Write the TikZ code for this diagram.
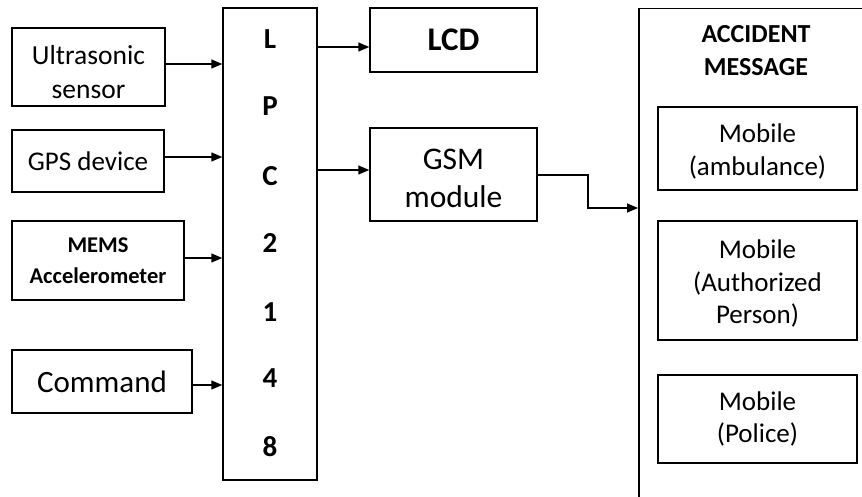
\documentclass[tikz,border=0pt]{standalone}
\usepackage{fontspec}
\setmainfont{Carlito}
\usetikzlibrary{arrows.meta}
\begin{document}
\begin{tikzpicture}[x=1pt,y=-1pt,
  box/.style={draw, line width=1.5pt, inner sep=0pt, align=center},
  txt/.style={inner sep=0pt, align=center},
  arr/.style={line width=1.5pt, -{Triangle[length=11pt,width=9pt]}},
  lpcl/.style={inner sep=0pt, font=\bfseries\fontsize{29}{30}\selectfont},
  reg/.style={font=\fontsize{27.5}{34}\selectfont},
  mob/.style={font=\fontsize{27}{32.5}\selectfont},
  big/.style={font=\fontsize{31.5}{38}\selectfont}]
\useasboundingbox (0,0) rectangle (862,497);
\clip (0,0) rectangle (862,497);
% inputs
\node[box, minimum width=153pt, minimum height=78pt] (us) at (88.5,67) {};
\node[txt, reg, yshift=-5pt] (ust) at (us) {Ultrasonic\\sensor};
\node[box, font=\fontsize{27}{34}\selectfont, minimum width=152pt, minimum height=62pt] (gps) at (88,161) {GPS device};
\node[box, font=\bfseries\fontsize{22.5}{31}\selectfont, minimum width=172pt, minimum height=79pt] (mems) at (98,260.5) {MEMS\\Accelerometer};
\node[box, font=\fontsize{31}{38}\selectfont, minimum width=180pt, minimum height=63pt] (cmd) at (102,381.5) {Command};
% controller
\node[box, minimum width=94pt, minimum height=472pt] (lpc) at (270,244) {};
\node[lpcl] (l1) at (270,39) {L};
\node[lpcl] (l2) at (270,106) {P};
\node[lpcl] (l3) at (270,176) {C};
\node[lpcl] (l4) at (270,243) {2};
\node[lpcl] (l5) at (270,312) {1};
\node[lpcl] (l6) at (270,378) {4};
\node[lpcl] (l7) at (270,447) {8};
% outputs
\node[box, font=\bfseries\fontsize{33}{38}\selectfont, minimum width=167pt, minimum height=64pt] (lcd) at (453.5,40) {LCD};
\node[box, minimum width=167pt, minimum height=93pt] (gsm) at (453.5,174.5) {};
\node[txt, big, yshift=-4pt] (gsmt) at (gsm) {GSM\\module};
% accident message block
\node[box, anchor=north west, minimum width=260pt, minimum height=520pt] (acc) at (638,8) {};
\node[txt, font=\bfseries\fontsize{26}{33}\selectfont] (acct) at (756,51) {ACCIDENT\\MESSAGE};
\node[box, minimum width=199pt, minimum height=83pt] (amb) at (757.5,148.5) {};
\node[txt, mob, yshift=-3pt] (ambt) at (amb) {Mobile\\(ambulance)};
\node[box, minimum width=199pt, minimum height=119pt] (auth) at (757.5,280.5) {};
\node[txt, mob, yshift=-3pt] (autht) at (auth) {Mobile\\(Authorized\\Person)};
\node[box, mob, minimum width=199pt, minimum height=88pt] (pol) at (757.5,419) {Mobile\\(Police)};
% connectors
\draw[arr] (us.east |- 0,64) -- (lpc.west |- 0,64);
\draw[arr] (gps.east |- 0,157) -- (lpc.west |- 0,157);
\draw[arr] (mems.east |- 0,258) -- (lpc.west |- 0,258);
\draw[arr] (cmd.east |- 0,385) -- (lpc.west |- 0,385);
\draw[arr] (lpc.east |- 0,47) -- (lcd.west |- 0,47);
\draw[arr] (lpc.east |- 0,170) -- (gsm.west |- 0,170);
\coordinate (bend) at (588,175);
\draw[arr] (gsm.east |- bend) -- (bend) -- (588,208) -- (acc.west |- 0,208);
\end{tikzpicture}
\end{document}
